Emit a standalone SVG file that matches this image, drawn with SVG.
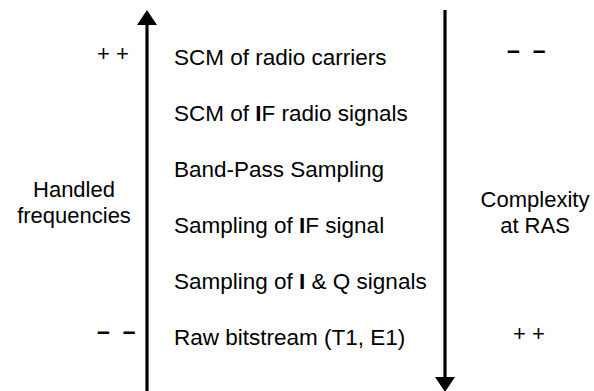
<svg xmlns="http://www.w3.org/2000/svg" width="594" height="391" viewBox="0 0 594 391">
  <style>
    text { font-family: "Liberation Sans", Arial, sans-serif; fill: #000; }
    .item { font-size: 22.5px; }
    .label { font-size: 22px; text-anchor: middle; }
    .mark { font-size: 22px; }
    .dash { font-size: 23px; font-weight: bold; }
    .b { font-weight: bold; }
    .axis { stroke: #000; stroke-width: 3.2; fill: none; }
  </style>
  <defs>
    <marker id="head" viewBox="0 0 15 20" markerWidth="15" markerHeight="20" refX="0" refY="10" orient="auto" markerUnits="userSpaceOnUse">
      <path d="M0,0 L15,10 L0,20 z" fill="#000"/>
    </marker>
  </defs>
  <rect width="594" height="391" fill="#fff"/>
  <g id="connectors">
    <line id="axis-frequencies" class="axis" x1="147" y1="391" x2="147" y2="25" marker-end="url(#head)"/>
    <line id="axis-complexity" class="axis" x1="445" y1="10" x2="445" y2="377" marker-end="url(#head)"/>
  </g>
  <g id="left-labels">
    <text id="freq-high" class="mark" x="97" y="61">+ +</text>
    <text id="freq-label" class="label" x="74"><tspan x="74" y="197">Handled</tspan><tspan x="74" y="223">frequencies</tspan></text>
    <text id="freq-low" class="dash" x="97" y="339">– <tspan dx="6.5">–</tspan></text>
  </g>
  <g id="items">
    <text id="item1" class="item" x="174" y="65">SCM of radio carriers</text>
    <text id="item2" class="item" x="174" y="121">SCM of <tspan class="b">I</tspan>F radio signals</text>
    <text id="item3" class="item" x="174" y="177">Band-Pass Sampling</text>
    <text id="item4" class="item" x="174" y="233">Sampling of <tspan class="b">I</tspan>F signal</text>
    <text id="item5" class="item" x="174" y="289">Sampling of <tspan class="b">I</tspan> &amp; Q signals</text>
    <text id="item6" class="item" x="174" y="345">Raw bitstream (T1, E1)</text>
  </g>
  <g id="right-labels">
    <text id="cplx-low" class="dash" x="507" y="58">– <tspan dx="6.5">–</tspan></text>
    <text id="cplx-label" class="label" x="535"><tspan x="535" y="207">Complexity</tspan><tspan x="535" y="233">at RAS</tspan></text>
    <text id="cplx-high" class="mark" x="513" y="341">+ +</text>
  </g>
</svg>
